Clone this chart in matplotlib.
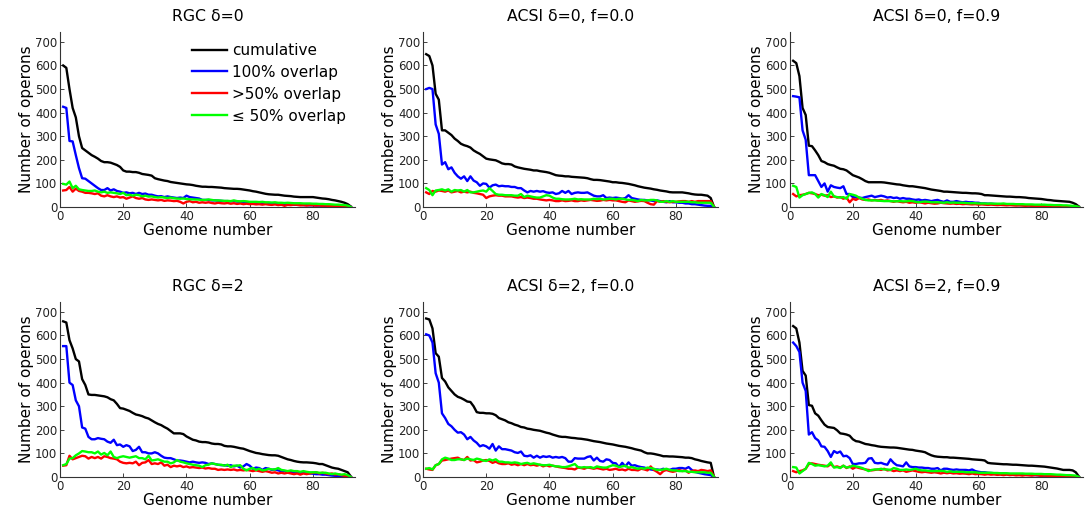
import numpy as np
import matplotlib
matplotlib.use("Agg")
import matplotlib.pyplot as plt

genomes = list(range(1, 93))

titles = ["RGC δ=0", "ACSI δ=0, f=0.0", "ACSI δ=0, f=0.9",
          "RGC δ=2", "ACSI δ=2, f=0.0", "ACSI δ=2, f=0.9"]
series_labels = ["cumulative", "100% overlap", ">50% overlap", "≤ 50% overlap"]
series_colors = ["#000000", "#0000ff", "#ff0000", "#00ff00"]

# ---------------- Panel 1: RGC delta=0 ----------------
p1_cum = [600, 590, 500, 420, 380, 300, 250, 240, 230, 220, 213, 205, 195, 190, 190, 188, 183, 178, 170, 155,
          150, 150, 148, 148, 145, 140, 138, 136, 133, 122, 118, 115, 112, 110, 106, 104, 102, 100, 98, 96,
          95, 93, 90, 88, 86, 86, 85, 85, 84, 83, 82, 80, 79, 78, 77, 77, 76, 74, 72, 70,
          67, 65, 62, 59, 56, 54, 53, 52, 52, 50, 48, 47, 46, 44, 43, 42, 42, 42, 42, 42,
          40, 38, 36, 35, 33, 30, 28, 25, 22, 18, 12, 2]
p1_full = [425, 420, 280, 278, 220, 165, 122, 120, 110, 100, 90, 80, 72, 72, 80, 70, 75, 68, 65, 60,
           62, 58, 60, 55, 60, 55, 57, 52, 52, 48, 45, 46, 42, 45, 42, 40, 38, 40, 38, 48,
           42, 40, 38, 36, 30, 30, 30, 28, 28, 27, 26, 25, 25, 24, 25, 23, 22, 22, 20, 20,
           19, 18, 18, 17, 16, 15, 15, 14, 13, 12, 12, 11, 10, 10, 9, 9, 8, 8, 7, 7,
           6, 6, 5, 5, 4, 4, 3, 3, 2, 2, 1, 0]
p1_gt50 = [70, 72, 85, 65, 78, 68, 65, 60, 60, 58, 55, 58, 48, 45, 50, 45, 42, 45, 40, 42,
           35, 40, 45, 38, 35, 38, 32, 30, 32, 30, 28, 30, 26, 28, 27, 25, 26, 22, 15, 22,
           25, 20, 22, 18, 20, 18, 20, 17, 15, 18, 16, 15, 17, 14, 16, 13, 15, 12, 14, 12,
           13, 11, 12, 10, 12, 10, 9, 11, 8, 10, 5, 9, 8, 10, 9, 7, 8, 6, 8, 7,
           6, 7, 5, 6, 4, 5, 3, 4, 2, 3, 1, 0]
p1_le50 = [98, 95, 108, 80, 90, 75, 72, 70, 68, 68, 70, 65, 62, 65, 60, 62, 60, 58, 55, 60,
           50, 52, 48, 52, 50, 45, 48, 44, 45, 42, 40, 42, 40, 38, 40, 37, 36, 35, 36, 34,
           33, 32, 32, 31, 30, 30, 32, 30, 28, 28, 27, 26, 26, 25, 28, 25, 24, 25, 24, 22,
           22, 22, 21, 22, 20, 20, 19, 20, 18, 18, 17, 18, 17, 16, 16, 16, 15, 15, 15, 14,
           14, 13, 13, 12, 12, 11, 10, 10, 9, 8, 6, 0]

# ---------------- Panel 2: ACSI delta=0, f=0.0 ----------------
p2_cum = [648, 640, 600, 480, 455, 325, 325, 315, 305, 290, 280, 268, 262, 258, 252, 240, 232, 225, 215, 205,
          202, 200, 198, 192, 185, 182, 182, 180, 172, 168, 165, 162, 160, 158, 155, 155, 152, 150, 148, 145,
          140, 135, 133, 132, 130, 130, 128, 127, 126, 125, 124, 122, 118, 115, 115, 114, 112, 110, 108, 105,
          105, 103, 102, 100, 98, 95, 92, 88, 85, 82, 80, 78, 75, 73, 70, 68, 66, 63, 62, 62,
          62, 62, 60, 58, 55, 53, 52, 52, 50, 48, 38, 2]
p2_full = [500, 505, 500, 350, 310, 180, 190, 160, 168, 145, 130, 120, 130, 110, 130, 112, 105, 90, 100, 98,
           82, 92, 95, 88, 90, 88, 88, 85, 85, 80, 80, 70, 62, 68, 65, 68, 65, 67, 62, 60,
           62, 55, 58, 68, 60, 68, 55, 60, 62, 60, 60, 62, 55, 48, 45, 45, 50, 38, 40, 38,
           40, 38, 35, 38, 50, 38, 35, 32, 30, 30, 28, 28, 25, 28, 25, 22, 20, 25, 20, 20,
           18, 18, 15, 15, 12, 12, 10, 8, 6, 5, 5, 0]
p2_gt50 = [62, 55, 68, 65, 70, 68, 65, 70, 62, 65, 68, 62, 65, 62, 65, 60, 58, 55, 52, 38,
           45, 48, 50, 48, 48, 45, 45, 45, 42, 40, 42, 38, 40, 38, 35, 35, 32, 30, 28, 30,
           28, 25, 25, 28, 25, 26, 28, 25, 25, 28, 26, 28, 30, 28, 26, 27, 30, 28, 30, 28,
           28, 25, 22, 20, 28, 25, 22, 24, 26, 25, 18, 12, 10, 25, 22, 25, 22, 20, 22, 22,
           24, 25, 25, 22, 25, 22, 25, 25, 25, 25, 25, 2]
p2_le50 = [80, 72, 50, 70, 72, 75, 70, 75, 65, 72, 70, 72, 65, 72, 62, 62, 65, 68, 70, 65,
           80, 68, 55, 52, 52, 50, 50, 50, 48, 48, 55, 42, 48, 45, 42, 40, 40, 45, 50, 48,
           40, 35, 35, 33, 32, 32, 33, 35, 32, 33, 32, 32, 32, 35, 33, 35, 32, 33, 35, 35,
           32, 35, 35, 32, 30, 30, 28, 25, 30, 28, 28, 30, 30, 28, 22, 22, 25, 22, 25, 22,
           22, 22, 22, 22, 20, 20, 18, 18, 18, 18, 18, 2]

# ---------------- Panel 3: ACSI delta=0, f=0.9 ----------------
p3_cum = [620, 610, 555, 420, 390, 260, 258, 240, 220, 195, 190, 182, 178, 175, 168, 162, 160, 155, 145, 135,
          130, 125, 118, 110, 105, 105, 105, 105, 105, 104, 102, 100, 98, 96, 95, 92, 90, 88, 88, 86,
          84, 82, 80, 77, 74, 72, 70, 68, 65, 65, 64, 63, 62, 61, 60, 60, 59, 58, 58, 57,
          55, 50, 50, 49, 48, 47, 46, 45, 44, 44, 43, 42, 42, 41, 40, 38, 37, 36, 35, 34,
          32, 30, 29, 27, 26, 25, 24, 23, 22, 18, 12, 2]
p3_full = [470, 468, 465, 325, 285, 135, 135, 135, 110, 85, 100, 65, 92, 85, 82, 80, 88, 55, 55, 42,
           40, 40, 38, 42, 45, 48, 42, 45, 48, 45, 40, 42, 38, 40, 35, 38, 35, 35, 32, 30,
           32, 28, 30, 28, 25, 28, 30, 25, 22, 28, 22, 22, 25, 22, 20, 22, 20, 20, 18, 18,
           15, 15, 14, 14, 13, 12, 12, 11, 10, 10, 9, 9, 8, 8, 7, 7, 6, 6, 5, 5,
           5, 4, 4, 3, 3, 3, 2, 2, 2, 1, 1, 0]
p3_gt50 = [55, 45, 50, 52, 55, 60, 58, 55, 50, 52, 48, 50, 42, 45, 40, 42, 35, 40, 20, 35,
           30, 38, 32, 30, 32, 28, 30, 28, 30, 26, 28, 25, 22, 25, 22, 20, 22, 18, 20, 18,
           20, 18, 15, 18, 16, 14, 15, 18, 16, 15, 14, 15, 13, 14, 12, 13, 12, 11, 12, 10,
           11, 10, 9, 10, 9, 8, 9, 8, 7, 8, 7, 6, 7, 6, 5, 6, 5, 5, 4, 5,
           4, 4, 3, 3, 3, 2, 2, 2, 2, 1, 1, 0]
p3_le50 = [90, 85, 40, 50, 55, 60, 62, 55, 40, 55, 50, 42, 65, 45, 42, 40, 42, 35, 55, 52,
           48, 40, 35, 30, 28, 28, 28, 27, 26, 25, 25, 25, 24, 24, 25, 24, 24, 26, 25, 22,
           20, 22, 23, 22, 20, 20, 20, 19, 18, 20, 18, 19, 18, 18, 18, 17, 16, 16, 16, 15,
           15, 15, 14, 15, 14, 14, 14, 15, 13, 13, 13, 12, 12, 12, 11, 11, 11, 10, 10, 10,
           10, 9, 9, 8, 8, 8, 7, 7, 6, 5, 4, 0]

# ---------------- Panel 4: RGC delta=2 ----------------
p4_cum = [660, 655, 580, 545, 500, 490, 415, 390, 350, 348, 348, 346, 344, 342, 338, 330, 325, 310, 292, 290,
          285, 280, 272, 265, 262, 258, 252, 248, 240, 232, 225, 220, 212, 205, 195, 185, 185, 185, 182, 172,
          165, 158, 155, 150, 148, 148, 146, 142, 140, 140, 138, 132, 130, 130, 128, 125, 122, 120, 115, 110,
          106, 102, 100, 97, 95, 93, 92, 92, 90, 85, 80, 75, 72, 68, 65, 63, 62, 62, 61, 60,
          58, 55, 55, 50, 45, 40, 37, 35, 30, 25, 20, 2]
p4_full = [555, 555, 400, 390, 325, 300, 210, 205, 170, 160, 160, 165, 162, 160, 150, 145, 158, 135, 138, 128,
           135, 130, 110, 115, 128, 105, 105, 100, 100, 105, 100, 90, 82, 80, 80, 75, 70, 70, 68, 65,
           62, 65, 62, 60, 62, 60, 55, 58, 55, 52, 50, 50, 48, 50, 45, 48, 40, 45, 55, 48,
           35, 40, 38, 30, 38, 35, 30, 32, 28, 25, 25, 22, 22, 20, 20, 18, 18, 15, 15, 14,
           12, 12, 10, 10, 8, 6, 5, 3, 2, 2, 1, 0]
p4_gt50 = [48, 50, 90, 75, 80, 85, 90, 88, 78, 85, 80, 85, 78, 88, 85, 80, 78, 75, 65, 60,
           58, 60, 58, 65, 50, 60, 62, 72, 55, 58, 55, 62, 48, 52, 42, 48, 45, 48, 42, 45,
           40, 42, 40, 38, 40, 36, 38, 35, 35, 30, 32, 30, 32, 30, 32, 28, 30, 28, 30, 28,
           25, 28, 25, 22, 25, 22, 18, 20, 15, 18, 15, 18, 15, 12, 15, 10, 15, 12, 15, 18,
           20, 15, 18, 15, 12, 15, 10, 12, 8, 5, 3, 0]
p4_le50 = [50, 55, 78, 80, 92, 100, 110, 108, 105, 105, 100, 108, 95, 102, 92, 108, 85, 80, 85, 88,
           85, 82, 85, 88, 80, 80, 75, 90, 70, 72, 75, 70, 65, 65, 58, 62, 72, 65, 62, 58,
           55, 52, 50, 48, 42, 50, 52, 58, 55, 52, 52, 48, 52, 42, 48, 48, 50, 35, 28, 35,
           38, 30, 35, 28, 30, 35, 32, 32, 38, 30, 28, 25, 28, 25, 25, 22, 25, 22, 20, 20,
           20, 18, 18, 18, 15, 12, 15, 12, 10, 12, 8, 0]

# ---------------- Panel 5: ACSI delta=2, f=0.0 ----------------
p5_cum = [672, 668, 630, 525, 510, 420, 405, 380, 365, 350, 340, 335, 328, 320, 318, 300, 275, 272, 272, 270,
          270, 268, 262, 250, 245, 240, 232, 228, 222, 218, 212, 210, 205, 203, 200, 198, 196, 192, 188, 185,
          180, 176, 172, 170, 170, 168, 166, 165, 163, 162, 160, 158, 155, 152, 150, 148, 145, 142, 140, 138,
          135, 132, 130, 128, 125, 122, 118, 115, 112, 105, 100, 100, 98, 95, 92, 88, 88, 87, 87, 86,
          85, 84, 82, 82, 80, 75, 72, 68, 65, 62, 60, 2]
p5_full = [605, 600, 570, 440, 400, 270, 250, 225, 215, 200, 188, 190, 180, 160, 170, 155, 145, 130, 135, 130,
           120, 140, 112, 130, 118, 118, 115, 112, 105, 102, 108, 90, 88, 92, 82, 90, 82, 88, 85, 88,
           82, 85, 82, 85, 80, 65, 65, 80, 78, 78, 78, 85, 88, 70, 82, 68, 65, 75, 72, 60,
           58, 42, 60, 45, 62, 48, 50, 45, 42, 40, 35, 32, 30, 32, 30, 35, 30, 30, 35, 35,
           38, 38, 35, 42, 30, 22, 18, 15, 12, 10, 8, 0]
p5_gt50 = [35, 32, 30, 50, 55, 70, 72, 75, 78, 80, 82, 75, 72, 85, 70, 72, 62, 65, 70, 72,
           68, 60, 65, 58, 55, 55, 58, 52, 55, 50, 55, 50, 55, 50, 52, 48, 52, 45, 50, 45,
           48, 45, 42, 40, 38, 35, 35, 32, 40, 38, 35, 40, 38, 35, 38, 35, 32, 35, 30, 32,
           35, 30, 32, 28, 35, 30, 30, 28, 35, 32, 28, 45, 30, 22, 12, 25, 30, 25, 22, 25,
           30, 25, 28, 18, 25, 28, 25, 30, 28, 25, 28, 2]
p5_le50 = [35, 38, 32, 50, 55, 75, 82, 78, 72, 72, 75, 75, 72, 78, 75, 72, 78, 75, 70, 68,
           75, 70, 75, 65, 65, 62, 62, 60, 62, 60, 55, 58, 60, 55, 58, 55, 52, 50, 50, 52,
           48, 45, 45, 42, 42, 45, 50, 55, 42, 40, 42, 40, 42, 38, 45, 42, 40, 40, 45, 50,
           48, 42, 45, 48, 40, 42, 38, 35, 38, 35, 40, 38, 35, 30, 30, 32, 35, 30, 28, 28,
           25, 25, 25, 22, 22, 20, 20, 20, 20, 18, 18, 2]

# ---------------- Panel 6: ACSI delta=2, f=0.9 ----------------
p6_cum = [640, 630, 570, 450, 430, 305, 302, 270, 260, 240, 222, 212, 210, 208, 198, 185, 183, 180, 175, 160,
          152, 150, 145, 140, 138, 135, 133, 130, 128, 127, 126, 125, 125, 124, 122, 120, 118, 116, 115, 112,
          110, 108, 105, 98, 92, 88, 86, 85, 84, 84, 82, 82, 81, 80, 79, 78, 77, 75, 74, 73,
          72, 70, 60, 58, 57, 56, 55, 54, 54, 53, 52, 52, 51, 50, 49, 48, 48, 47, 46, 45,
          44, 42, 40, 38, 36, 33, 30, 30, 30, 28, 20, 2]
p6_full = [570, 555, 530, 400, 365, 180, 190, 165, 155, 130, 128, 110, 85, 110, 102, 108, 88, 90, 80, 55,
           55, 58, 58, 60, 78, 80, 60, 58, 60, 55, 52, 75, 60, 50, 48, 45, 62, 45, 42, 42,
           40, 40, 38, 38, 35, 35, 38, 28, 35, 35, 32, 30, 32, 30, 30, 30, 28, 32, 25, 22,
           20, 20, 18, 17, 16, 15, 14, 14, 13, 12, 12, 11, 10, 10, 9, 9, 8, 8, 7, 5,
           6, 5, 5, 4, 4, 3, 3, 2, 2, 2, 1, 0]
p6_gt50 = [25, 20, 25, 28, 35, 55, 58, 55, 52, 50, 48, 45, 55, 42, 45, 40, 48, 38, 45, 35,
           42, 38, 35, 32, 30, 28, 30, 32, 30, 35, 28, 30, 25, 28, 25, 28, 22, 25, 28, 25,
           22, 20, 22, 20, 18, 20, 18, 15, 18, 16, 18, 15, 16, 14, 15, 14, 12, 15, 12, 13,
           12, 10, 12, 10, 11, 9, 10, 8, 10, 8, 9, 7, 8, 6, 8, 7, 6, 8, 7, 5,
           6, 5, 4, 5, 4, 4, 3, 3, 3, 2, 2, 0]
p6_le50 = [42, 40, 15, 25, 35, 60, 55, 48, 50, 48, 45, 48, 62, 40, 42, 38, 48, 40, 42, 48,
           45, 42, 38, 32, 25, 30, 32, 32, 35, 32, 32, 30, 38, 35, 30, 30, 32, 30, 32, 35,
           30, 28, 28, 26, 25, 25, 25, 26, 25, 22, 24, 22, 22, 22, 22, 20, 20, 20, 20, 18,
           18, 18, 18, 18, 17, 17, 16, 16, 16, 15, 15, 15, 15, 15, 14, 14, 14, 13, 13, 13,
           12, 12, 12, 11, 10, 10, 9, 8, 8, 7, 6, 0]

panels = [
    (p1_cum, p1_full, p1_gt50, p1_le50),
    (p2_cum, p2_full, p2_gt50, p2_le50),
    (p3_cum, p3_full, p3_gt50, p3_le50),
    (p4_cum, p4_full, p4_gt50, p4_le50),
    (p5_cum, p5_full, p5_gt50, p5_le50),
    (p6_cum, p6_full, p6_gt50, p6_le50),
]

W, H = 1086, 513
fig = plt.figure(figsize=(W / 100, H / 100), dpi=100)
plt.rcParams['font.family'] = ['DejaVu Sans']

col_left = [60, 423, 790]
col_right = [355, 718, 1083]
row_top = [32, 302]
row_bot = [207, 477]

for i, (title, data) in enumerate(zip(titles, panels)):
    r, c = divmod(i, 3)
    l = col_left[c] / W
    b = 1 - row_bot[r] / H
    w = (col_right[c] - col_left[c]) / W
    h = (row_bot[r] - row_top[r]) / H
    ax = fig.add_axes([l, b, w, h])
    for vals, col, lab in zip(data, series_colors, series_labels):
        ax.plot(genomes, vals, color=col, lw=1.7, label=lab, solid_joinstyle='round')
    ax.set_xlim(0, 93.3)
    ax.set_ylim(0, 742)
    ax.set_xticks([0, 20, 40, 60, 80])
    ax.set_yticks([0, 100, 200, 300, 400, 500, 600, 700])
    ax.tick_params(direction='in', length=3, width=0.6, labelsize=8.5, pad=2, colors='#222222')
    for s in ['top', 'right']:
        ax.spines[s].set_visible(False)
    for s in ['left', 'bottom']:
        ax.spines[s].set_linewidth(0.8)
        ax.spines[s].set_color('#333333')
    ax.set_xlabel("Genome number", fontsize=11, labelpad=0)
    ax.set_ylabel("Number of operons", fontsize=11, labelpad=1)
    ax.set_title(title, fontsize=11.3, pad=8)
    if i == 0:
        ax.legend(loc='upper right', bbox_to_anchor=(1.0, 0.99), frameon=False,
                  fontsize=11, handlelength=2.3, handletextpad=0.3,
                  labelspacing=0.45, borderaxespad=0.2)

fig.savefig("out.png", dpi=100)
